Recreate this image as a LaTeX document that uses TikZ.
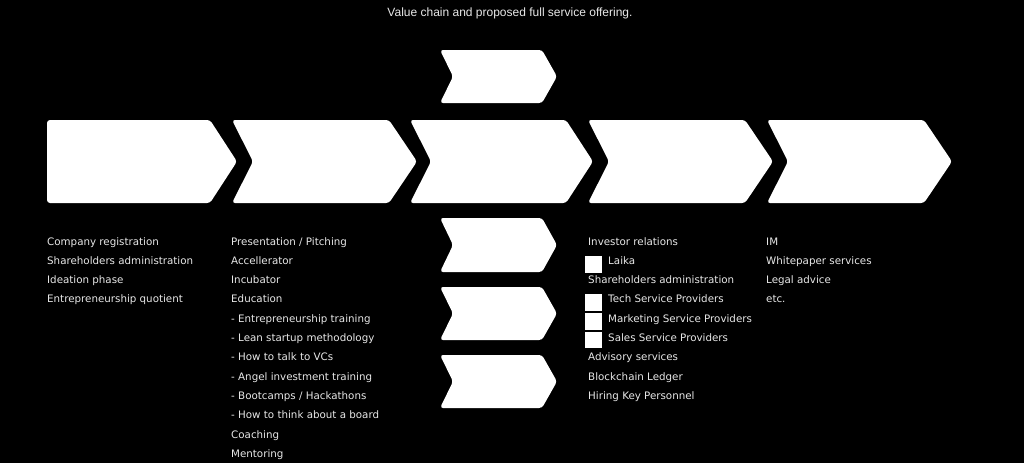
\documentclass[tikz,border=0pt]{standalone}
\usepackage{fontspec}
\setmainfont{DejaVu Sans}
\newfontfamily\titlefont{Liberation Sans}
\definecolor{txt}{HTML}{E8E8E8}
\tikzset{
  chev/.style={fill=white, rounded corners=3pt},
  item/.style={anchor=base west, inner sep=0pt, text=txt, font=\fontsize{10.3}{12}\selectfont},
  box/.style={fill=white},
}
% #1 left, #2 top-right end, #3 tip depth, #4 top, #5 bottom, #6 notch depth
\newcommand\mychev[6]{%
  \path[chev] (#1,#4) -- (#2,#4) -- ({#2+#3},{(#4+#5)/2}) -- (#2,#5) -- (#1,#5) -- ({#1+#6},{(#4+#5)/2}) -- cycle;}
\begin{document}
\begin{tikzpicture}[x=1pt,y=-1pt]
\fill[black] (0,0) rectangle (1024,463);
\useasboundingbox (0,0) rectangle (1024,463);
\node[anchor=center, text=txt, font=\titlefont\fontsize{12}{14}\selectfont] (title) at (510,13) {Value chain and proposed full service offering.};
% main chevrons
\mychev{47}{210}{27}{120}{203}{0}
\mychev{232}{389}{28}{120}{203}{21}
\mychev{410}{566}{27}{120}{203}{21}
\mychev{588}{745}{28}{120}{203}{21}
\mychev{767}{924}{28}{120}{203}{21}
% small chevrons
\mychev{440}{542}{15}{50}{103}{13}
\mychev{440}{542}{15}{218}{272}{13}
\mychev{440}{542}{15}{287}{340}{13}
\mychev{440}{542}{15}{355}{408}{13}
% column 1
\node[item] (a1) at (47,245) {Company registration};
\node[item] (a2) at (47,264.3) {Shareholders administration};
\node[item] (a3) at (47,283.6) {Ideation phase};
\node[item] (a4) at (47,302.9) {Entrepreneurship quotient};
% column 2
\node[item] (b1) at (231,245) {Presentation / Pitching};
\node[item] (b2) at (231,264.3) {Accellerator};
\node[item] (b3) at (231,283.6) {Incubator};
\node[item] (b4) at (231,302.9) {Education};
\node[item] (b5) at (231,322.2) {- Entrepreneurship training};
\node[item] (b6) at (231,341.5) {- Lean startup methodology};
\node[item] (b7) at (231,360.8) {- How to talk to VCs};
\node[item] (b8) at (231,380.1) {- Angel investment training};
\node[item] (b9) at (231,399.4) {- Bootcamps / Hackathons};
\node[item] (b10) at (231,418.7) {- How to think about a board};
\node[item] (b11) at (231,438) {Coaching};
\node[item] (b12) at (231,457.3) {Mentoring};
% column 4
\node[item] (c1) at (588,245) {Investor relations};
\fill[box] (585,256) rectangle (602,273);
\node[item] (c2) at (608,264.3) {Laika};
\node[item] (c3) at (588,283.6) {Shareholders administration};
\fill[box] (585,294) rectangle (602,311);
\node[item] (c4) at (608,302.9) {Tech Service Providers};
\fill[box] (585,313) rectangle (602,329.5);
\node[item] (c5) at (608,322.2) {Marketing Service Providers};
\fill[box] (585,332) rectangle (602,348);
\node[item] (c6) at (608,341.5) {Sales Service Providers};
\node[item] (c7) at (588,360.8) {Advisory services};
\node[item] (c8) at (588,380.1) {Blockchain Ledger};
\node[item] (c9) at (588,399.4) {Hiring Key Personnel};
% column 5
\node[item] (d1) at (766,245) {IM};
\node[item] (d2) at (766,264.3) {Whitepaper services};
\node[item] (d3) at (766,283.6) {Legal advice};
\node[item] (d4) at (766,302.9) {etc.};
\end{tikzpicture}
\end{document}
